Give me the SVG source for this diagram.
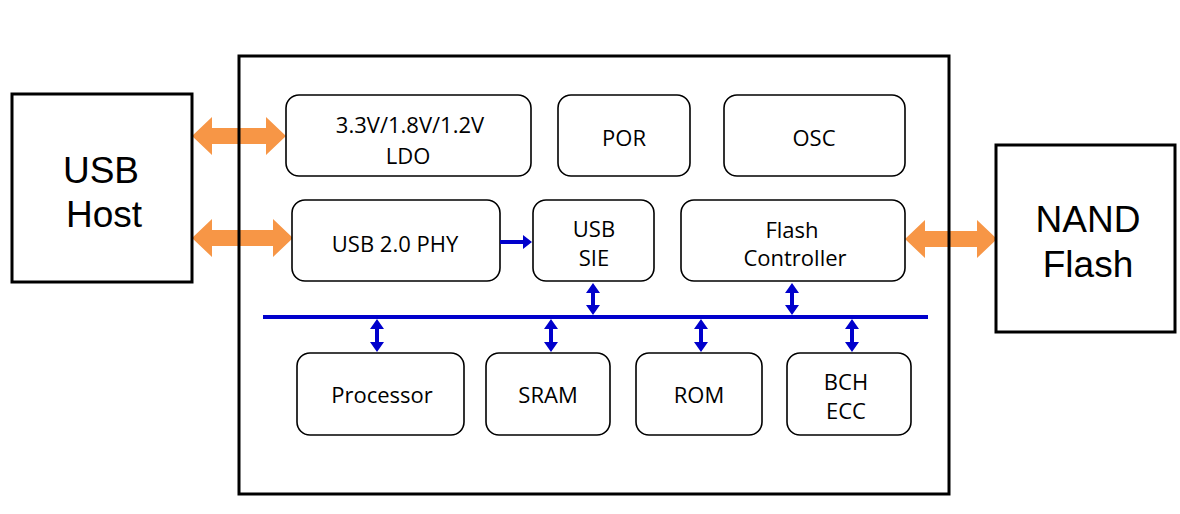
<svg xmlns="http://www.w3.org/2000/svg" width="1180" height="514" viewBox="0 0 1180 514">
<style>
.ext{fill:#fff;stroke:#000;stroke-width:3}
.main{fill:none;stroke:#000;stroke-width:3}
.blk{fill:#fff;stroke:#000;stroke-width:1.6}
.t{font-family:"Open Sans","Noto Sans",sans-serif;font-size:22px;fill:#000;text-anchor:middle}
.tb{font-family:"Liberation Sans",Arial,sans-serif;font-size:37px;fill:#000;text-anchor:middle}
.or{fill:#F79646}
.bl{fill:#0000CC}
</style>
<rect width="1180" height="514" fill="#fff"/>
<g id="connectors">
<polygon class="or" points="192,136 212,117 212,128 266,128 266,117 286,136 266,155 266,144 212,144 212,155"/>
<polygon class="or" points="192,238 212,219 212,230 273,230 273,219 293,238 273,257 273,246 212,246 212,257"/>
<polygon class="or" points="905,239 925,220 925,231 977,231 977,220 997,239 977,258 977,247 925,247 925,258"/>
</g>
<g id="usb-host"><rect class="ext" x="12" y="94" width="180" height="188"/>
<text class="tb" x="101" y="183">USB</text><text class="tb" x="104" y="227">Host</text></g>
<g id="nand-flash"><rect class="ext" x="996" y="145" width="179" height="187"/>
<text class="tb" x="1088" y="232">NAND</text><text class="tb" x="1088" y="277">Flash</text></g>
<g id="chip"><rect class="main" x="239" y="56" width="710" height="438"/></g>
<g id="ldo"><rect class="blk" x="286" y="95" width="245" height="81" rx="13"/>
<text class="t" x="410" y="133">3.3V/1.8V/1.2V</text><text class="t" x="408" y="164">LDO</text></g>
<g id="por"><rect class="blk" x="558" y="95" width="132" height="81" rx="13"/>
<text class="t" x="624" y="146">POR</text></g>
<g id="osc"><rect class="blk" x="724" y="95" width="181" height="81" rx="13"/>
<text class="t" x="814" y="146">OSC</text></g>
<g id="usb-phy"><rect class="blk" x="292" y="200" width="208" height="81" rx="13"/>
<text class="t" x="395" y="252">USB 2.0 PHY</text></g>
<g id="usb-sie"><rect class="blk" x="533" y="200" width="121" height="81" rx="13"/>
<text class="t" x="594" y="237">USB</text><text class="t" x="594" y="266">SIE</text></g>
<g id="flash-controller"><rect class="blk" x="681" y="200" width="224" height="81" rx="13"/>
<text class="t" x="792" y="238">Flash</text><text class="t" x="795" y="266">Controller</text></g>
<g id="processor"><rect class="blk" x="297" y="353" width="167" height="82" rx="13"/>
<text class="t" x="382" y="403">Processor</text></g>
<g id="sram"><rect class="blk" x="486" y="353" width="124" height="82" rx="13"/>
<text class="t" x="548" y="403">SRAM</text></g>
<g id="rom"><rect class="blk" x="636" y="353" width="126" height="82" rx="13"/>
<text class="t" x="699" y="403">ROM</text></g>
<g id="bch-ecc"><rect class="blk" x="787" y="353" width="124" height="82" rx="13"/>
<text class="t" x="846" y="390">BCH</text><text class="t" x="846" y="419">ECC</text></g>
<g id="bus-connectors">
<rect class="bl" x="263" y="315" width="665" height="4"/>
<polygon class="bl" points="500,240 523,240 523,235 532,242 523,249 523,244 500,244"/>
<polygon class="bl" points="593,283 600,293 595,293 595,305 600,305 593,315 586,305 591,305 591,293 586,293"/>
<polygon class="bl" points="792,283 799,293 794,293 794,305 799,305 792,315 785,305 790,305 790,293 785,293"/>
<polygon class="bl" points="377,319 384,329 379,329 379,342 384,342 377,352 370,342 375,342 375,329 370,329"/>
<polygon class="bl" points="551,319 558,329 553,329 553,342 558,342 551,352 544,342 549,342 549,329 544,329"/>
<polygon class="bl" points="701,319 708,329 703,329 703,342 708,342 701,352 694,342 699,342 699,329 694,329"/>
<polygon class="bl" points="852,319 859,329 854,329 854,342 859,342 852,352 845,342 850,342 850,329 845,329"/>
</g>
</svg>
